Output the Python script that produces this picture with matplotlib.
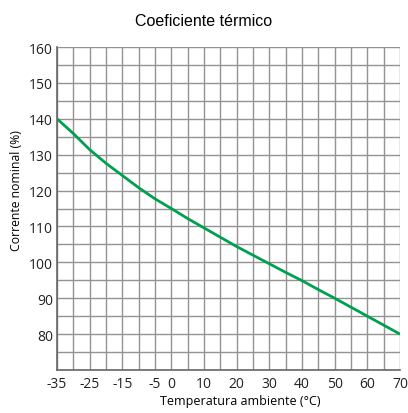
import matplotlib
matplotlib.use("Agg")
import matplotlib.pyplot as plt
import numpy as np

# valores
temperatura = [-35, -30, -25, -20, -15, -10, -5, 0, 5, 10, 15, 20, 25, 30, 35, 40, 45, 50, 55, 60, 65, 70]
corriente = [140, 135.9, 131.4, 127.6, 124.2, 120.8, 117.7, 115, 112.2, 109.6, 107, 104.4, 102, 99.6, 97.2, 94.9, 92.4, 90, 87.5, 85, 82.5, 80]

xticks = [-35, -25, -15, -5, 0, 10, 20, 30, 40, 50, 60, 70]
yticks = [80, 90, 100, 110, 120, 130, 140, 150, 160]

plt.rcParams['axes.unicode_minus'] = False

fig = plt.figure(figsize=(4.08, 4.14), dpi=100)
ax = fig.add_axes([0.1397, 0.1039, 0.8407, 0.7801])

ax.plot(temperatura, corriente, color='#00a050', linewidth=2.0, solid_capstyle='butt', zorder=3)

ax.set_xlim(-35, 70)
ax.set_ylim(70, 160)
ax.set_xticks(xticks)
ax.set_yticks(yticks)
ax.set_xticks(np.arange(-35, 71, 5), minor=True)
ax.set_yticks(np.arange(70, 161, 5), minor=True)
ax.grid(True, which='both', color='#939393', linewidth=1.0)
ax.set_axisbelow(True)
ax.tick_params(which='both', length=0)
ax.tick_params(axis='y', labelsize=10, colors='#222222', pad=3)
ax.tick_params(axis='x', labelsize=10, colors='#222222', pad=4)

for s in ['top', 'right']:
    ax.spines[s].set_visible(False)
for s in ['left', 'bottom']:
    ax.spines[s].set_color('#666666')
    ax.spines[s].set_linewidth(1.2)

fuente = 'Open Sans'
for lbl in ax.get_xticklabels() + ax.get_yticklabels():
    lbl.set_family(fuente)

ax.set_xlabel('Temperatura ambiente (°C)', fontsize=9, family=fuente, labelpad=5)
ax.set_ylabel('Corrente nominal (%)', fontsize=8.8, family=fuente, labelpad=5)
ax.xaxis.set_label_coords(0.534, -0.075)
ax.yaxis.set_label_coords(-0.098, 0.56)
fig.text(0.5, 0.947, 'Coeficiente térmico', ha='center', va='center', fontsize=11.5, family='Liberation Sans')

fig.savefig('out.png', dpi=100)
